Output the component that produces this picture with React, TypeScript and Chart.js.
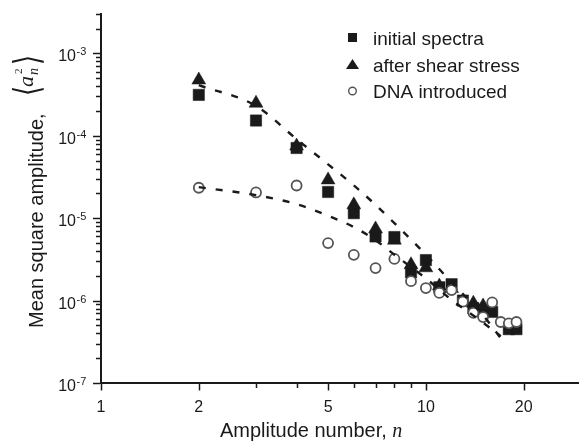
import React, { useEffect, useRef } from 'react';
import { Chart, registerables } from 'chart.js';

Chart.register(...registerables);

// ---------- data ----------
const seriesLabels = ['initial spectra', 'after shear stress', 'DNA introduced'];

const squareN = [2, 3, 4, 5, 6, 7, 8, 9, 10, 11, 12, 13, 14, 15, 16, 18, 19];
const squareV = [3.13e-4, 1.53e-4, 7.1e-5, 2.08e-5, 1.15e-5, 6.0e-6, 5.9e-6, 2.2e-6, 3.1e-6, 1.45e-6, 1.58e-6, 1.0e-6, 8.1e-7, 7.7e-7, 7.3e-7, 4.5e-7, 4.5e-7];

const triangleN = [2, 3, 4, 5, 6, 7, 8, 9, 10, 11, 12, 13, 14, 15];
const triangleV = [4.74e-4, 2.48e-4, 7.5e-5, 2.91e-5, 1.45e-5, 7.4e-6, 5.4e-6, 2.72e-6, 2.5e-6, 1.5e-6, 1.4e-6, 9.8e-7, 9.3e-7, 8.6e-7];

const circleN = [2, 3, 4, 5, 6, 7, 8, 9, 10, 11, 12, 13, 14, 15, 16, 17, 18, 19];
const circleV = [2.34e-5, 2.05e-5, 2.49e-5, 4.98e-6, 3.59e-6, 2.48e-6, 3.2e-6, 1.72e-6, 1.42e-6, 1.24e-6, 1.34e-6, 9.7e-7, 7.1e-7, 6.3e-7, 9.5e-7, 5.5e-7, 5.3e-7, 5.5e-7];

const fitUpperN = [2, 3, 4, 5, 6, 7, 8, 9, 10, 12, 15, 17];
const fitUpperV = [4.1e-4, 2.3e-4, 9.1e-5, 4.5e-5, 2.5e-5, 1.45e-5, 8.7e-6, 5.5e-6, 3.6e-6, 1.66e-6, 6.6e-7, 3.5e-7];

const fitLowerN = [2, 3, 4, 5, 6, 7, 8, 10, 12, 15, 17];
const fitLowerV = [2.38e-5, 1.9e-5, 1.48e-5, 1.07e-5, 7.8e-6, 5.4e-6, 3.6e-6, 1.86e-6, 1.02e-6, 5.4e-7, 3.7e-7];

const xMajorTicks = [1, 2, 5, 10, 20];
const xTickLabels = ['1', '2', '5', '10', '20'];
const xMinorTicks = [3, 4, 6, 7, 8, 9];
const yMajorTicks = [1e-7, 1e-6, 1e-5, 1e-4, 1e-3];
const yTickExponents = ['-7', '-6', '-5', '-4', '-3'];
const yMinorMultipliers = [2, 3, 4, 5, 6, 7, 8, 9];

const xMin = 1;
const xMax = 29.6;
const yMin = 1e-7;
const yMax = 3e-3;

const xTitle = 'Amplitude number, ';
const xTitleVar = 'n';
const yTitle = 'Mean square amplitude,';

const SANS = '"Liberation Sans", Arial, sans-serif';
const SERIF = '"Liberation Serif", "Times New Roman", serif';
const INK = '#1a1a1a';

const pts = (ns: number[], vs: number[]) => ns.map((n, i) => ({ x: n, y: vs[i] }));

function drawStretched(ctx: CanvasRenderingContext2D, ch: string, x: number, yTop: number, w: number, h: number) {
  ctx.save();
  ctx.font = '40px "DejaVu Sans", sans-serif';
  ctx.textAlign = 'left';
  ctx.textBaseline = 'alphabetic';
  const m = ctx.measureText(ch);
  const gw = (m.actualBoundingBoxLeft + m.actualBoundingBoxRight) || 12;
  const gh = (m.actualBoundingBoxAscent + m.actualBoundingBoxDescent) || 40;
  ctx.translate(x, yTop);
  ctx.scale(w / gw, h / gh);
  ctx.fillText(ch, m.actualBoundingBoxLeft, m.actualBoundingBoxAscent);
  ctx.restore();
}

const decorPlugin = {
  id: 'decor',
  afterDraw(chart: any) {
    const ctx: CanvasRenderingContext2D = chart.ctx;
    const xs = chart.scales.x;
    const ys = chart.scales.y;
    const { left, bottom } = chart.chartArea;
    ctx.save();
    ctx.strokeStyle = INK;
    ctx.fillStyle = INK;
    ctx.lineWidth = 1.5;

    // y ticks
    const yTickList: { v: number; major: boolean }[] = [];
    yMajorTicks.forEach((v) => {
      yTickList.push({ v, major: true });
      yMinorMultipliers.forEach((m) => yTickList.push({ v: v * m, major: false }));
    });
    yTickList.forEach(({ v, major }) => {
      if (v < yMin * 0.999 || v > yMax * 1.001) return;
      const py = Math.round(ys.getPixelForValue(v)) + 0.5;
      const len = major ? 6.5 : 3.5;
      ctx.beginPath();
      ctx.moveTo(left - 1.5 - len, py);
      ctx.lineTo(left - 1, py);
      ctx.stroke();
    });
    // x ticks
    const xTickList = [
      ...xMajorTicks.map((v) => ({ v, major: true })),
      ...xMinorTicks.map((v) => ({ v, major: false })),
    ];
    xTickList.forEach(({ v, major }) => {
      const px = Math.round(xs.getPixelForValue(v)) + 0.5;
      const len = major ? 6 : 3.5;
      ctx.beginPath();
      ctx.moveTo(px, bottom + 1);
      ctx.lineTo(px, bottom + 1.5 + len);
      ctx.stroke();
    });

    // y tick labels: 10 with superscript exponent
    ctx.textBaseline = 'alphabetic';
    yMajorTicks.forEach((v, i) => {
      const py = ys.getPixelForValue(v);
      ctx.font = '16px ' + SANS;
      ctx.textAlign = 'right';
      ctx.fillText('10', 76, py + 8);
      ctx.font = '11px ' + SANS;
      ctx.textAlign = 'left';
      ctx.fillText(yTickExponents[i], 76.5, py + 2);
    });
    // x tick labels
    ctx.font = '16px ' + SANS;
    ctx.textAlign = 'center';
    xMajorTicks.forEach((v, i) => {
      const px = xs.getPixelForValue(v);
      ctx.fillText(xTickLabels[i], px, 412);
    });

    // x title
    ctx.textAlign = 'left';
    ctx.font = '20px ' + SANS;
    ctx.fillText(xTitle, 220, 437);
    const w = ctx.measureText(xTitle).width;
    ctx.font = 'italic 20px ' + SERIF;
    ctx.fillText(xTitleVar, 220 + w, 437);

    // y title (rotated)
    ctx.save();
    ctx.translate(43, 328);
    ctx.rotate(-Math.PI / 2);
    ctx.font = '20px ' + SANS;
    ctx.textAlign = 'left';
    ctx.fillText(yTitle, 0, 0);
    drawStretched(ctx, '\u27E8', 234, -32, 6.5, 33);
    ctx.font = 'italic 22px ' + SERIF;
    ctx.fillText('a', 241, -10);
    ctx.font = '11px ' + SERIF;
    ctx.fillText('2', 254, -21);
    ctx.font = 'italic 14px ' + SERIF;
    ctx.fillText('n', 253, -4.7);
    drawStretched(ctx, '\u27E9', 265, -32, 6.5, 33);
    ctx.restore();

    // legend
    const lx = 352.5;
    const tx = 373;
    const rows = [44.5, 71.5, 98];
    ctx.fillStyle = INK;
    ctx.fillRect(lx - 4.5, rows[0] - 7 - 4.5, 9, 9);
    ctx.beginPath();
    ctx.moveTo(lx, rows[1] - 7 - 5.5);
    ctx.lineTo(lx + 6.5, rows[1] - 7 + 4.5);
    ctx.lineTo(lx - 6.5, rows[1] - 7 + 4.5);
    ctx.closePath();
    ctx.fill();
    ctx.beginPath();
    ctx.arc(lx, rows[2] - 7, 3.8, 0, Math.PI * 2);
    ctx.fillStyle = '#fff';
    ctx.fill();
    ctx.strokeStyle = '#555';
    ctx.lineWidth = 1.4;
    ctx.stroke();
    ctx.fillStyle = INK;
    ctx.font = '19px ' + SANS;
    ctx.textAlign = 'left';
    seriesLabels.forEach((t, i) => ctx.fillText(t, tx, rows[i]));

    ctx.restore();
  },
};

export default function App() {
  const ref = useRef<HTMLCanvasElement | null>(null);
  useEffect(() => {
    if (!ref.current) return;
    const dashed = {
      showLine: true,
      borderColor: INK,
      borderWidth: 2.4,
      borderDash: [7, 10],
      pointRadius: 0,
      pointHoverRadius: 0,
      cubicInterpolationMode: 'monotone' as const,
      fill: false,
    };
    const chart = new Chart(ref.current, {
      type: 'scatter',
      data: {
        datasets: [
          { ...dashed, label: 'fit 1', data: pts(fitUpperN, fitUpperV), order: 0 },
          { ...dashed, label: 'fit 2', data: pts(fitLowerN, fitLowerV), order: 1 },
          {
            label: seriesLabels[2], data: pts(circleN, circleV), pointStyle: 'circle', pointRadius: 5,
            backgroundColor: '#ffffff', borderColor: '#555555', borderWidth: 1.8, order: 2,
          },
          {
            label: seriesLabels[1], data: pts(triangleN, triangleV), pointStyle: 'triangle', pointRadius: 8,
            backgroundColor: INK, borderColor: INK, borderWidth: 0.5, order: 3,
          },
          {
            label: seriesLabels[0], data: pts(squareN, squareV), pointStyle: 'rect', pointRadius: 8,
            backgroundColor: INK, borderColor: INK, borderWidth: 0.5, order: 4,
          },
        ],
      } as any,
      options: {
        responsive: false,
        animation: false,
        events: [],
        layout: { autoPadding: false, padding: { top: 14, left: 0, right: 0, bottom: 0 } },
        plugins: { legend: { display: false }, tooltip: { enabled: false }, title: { display: false } },
        scales: {
          x: {
            type: 'logarithmic', min: xMin, max: xMax,
            grid: { display: false },
            border: { display: true, color: INK, width: 2 },
            ticks: { display: false },
            afterFit: (s: any) => { s.height = 62; },
          },
          y: {
            type: 'logarithmic', min: yMin, max: yMax,
            grid: { display: false },
            border: { display: true, color: INK, width: 2 },
            ticks: { display: false },
            afterFit: (s: any) => { s.width = 101; },
          },
        },
      } as any,
      plugins: [decorPlugin],
    });
    return () => chart.destroy();
  }, []);
  return (
    <div style={{ position: 'fixed', left: 0, top: 0, width: 579, height: 445, background: '#fff' }}>
      <canvas ref={ref} width={579} height={445} style={{ display: 'block', width: 579, height: 445 }} />
    </div>
  );
}
